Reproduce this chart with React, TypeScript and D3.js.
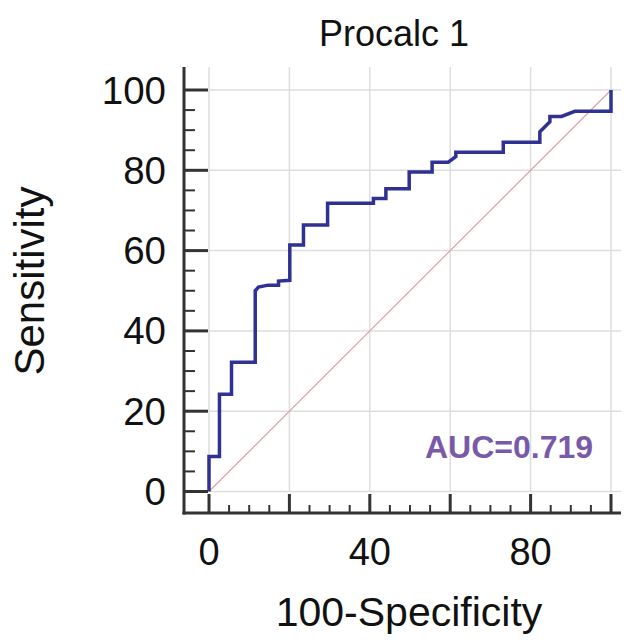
import React from "react";
import * as d3 from "d3";

// ROC curve points: 100-Specificity (x) and Sensitivity (y)
const fpr = [0, 0, 2.6, 2.6, 5.6, 5.6, 11.5, 11.5, 12.3, 14.7, 17.3, 17.3, 20.1, 20.1, 23.5, 23.5, 29.5, 29.5, 40.9, 40.9, 44, 44, 49.8, 49.8, 55.5, 55.5, 59.5, 61.4, 61.4, 73.2, 73.2, 82.3, 82.3, 84.8, 84.8, 87.7, 91, 100, 100];
const tpr = [0, 8.7, 8.7, 24.2, 24.2, 32.2, 32.2, 50, 50.9, 51.4, 51.4, 52.4, 52.6, 61.4, 61.4, 66.4, 66.4, 71.8, 71.8, 73, 73, 75.4, 75.4, 79.6, 79.6, 82, 82, 83.4, 84.5, 84.5, 87, 87, 89.6, 92.1, 93.4, 93.4, 94.7, 94.7, 100];
const majorTicks = [0, 20, 40, 60, 80, 100];
const yTickLabels = ["0", "20", "40", "60", "80", "100"];
const xTickLabelValues = [0, 40, 80];
const title = "Procalc 1";
const xLabel = "100-Specificity";
const yLabel = "Sensitivity";
const aucLabel = "AUC=0.719";

export default function App() {
  const x = d3.scaleLinear().domain([0, 100]).range([209, 611]);
  const y = d3.scaleLinear().domain([0, 100]).range([491.5, 90]);
  const axisX = 184;
  const axisY = 513;
  const plotTop = 67;
  const plotRight = 621;
  const minor = d3.range(0, 101, 5).filter((v) => v % 20 !== 0);
  const pts = fpr.map((v, i) => [v, tpr[i]] as [number, number]);
  const line = d3.line<[number, number]>().x((d) => x(d[0])).y((d) => y(d[1]));
  const font = "'Liberation Sans', Arial, sans-serif";
  return (
    <svg width={624} height={640} style={{ position: "absolute", left: 0, top: 0, background: "#fff" }} fontFamily={font}>
      <rect x={0} y={0} width={624} height={640} fill="#fff" />
      {/* grid */}
      {majorTicks.map((t) => (
        <line key={"gx" + t} x1={x(t)} x2={x(t)} y1={plotTop} y2={y(0)} stroke="#dedede" strokeWidth={1.5} />
      ))}
      {majorTicks.map((t) => (
        <line key={"gy" + t} x1={x(0)} x2={plotRight} y1={y(t)} y2={y(t)} stroke="#dedede" strokeWidth={1.5} />
      ))}
      {/* diagonal */}
      <line x1={x(0)} y1={y(0)} x2={x(100)} y2={y(100)} stroke="#d9a3a8" strokeWidth={1.2} />
      {/* ROC curve */}
      <path d={line(pts) || ""} fill="none" stroke="#2f3193" strokeWidth={3.5} strokeLinejoin="miter" />
      {/* axes */}
      <line x1={axisX} x2={axisX} y1={plotTop} y2={axisY + 1.5} stroke="#333" strokeWidth={3} />
      <line x1={axisX - 1.5} x2={plotRight} y1={axisY} y2={axisY} stroke="#333" strokeWidth={3} />
      {majorTicks.map((t) => (
        <line key={"ty" + t} x1={axisX} x2={208} y1={y(t)} y2={y(t)} stroke="#333" strokeWidth={3} />
      ))}
      {minor.map((t) => (
        <line key={"mty" + t} x1={axisX} x2={195} y1={y(t)} y2={y(t)} stroke="#333" strokeWidth={2} />
      ))}
      {majorTicks.map((t) => (
        <line key={"tx" + t} x1={x(t)} x2={x(t)} y1={axisY} y2={494} stroke="#333" strokeWidth={3} />
      ))}
      {minor.map((t) => (
        <line key={"mtx" + t} x1={x(t)} x2={x(t)} y1={axisY} y2={505} stroke="#333" strokeWidth={2} />
      ))}
      {/* tick labels */}
      {majorTicks.map((t, i) => (
        <text key={"ly" + t} x={166} y={y(t)} textAnchor="end" dominantBaseline="central" fontSize={38.5} fill="#111">
          {yTickLabels[i]}
        </text>
      ))}
      {xTickLabelValues.map((t) => (
        <text key={"lx" + t} x={x(t)} y={565} textAnchor="middle" fontSize={38} fill="#111">
          {String(t)}
        </text>
      ))}
      {/* labels */}
      <text x={394} y={46} textAnchor="middle" fontSize={36} fill="#111">{title}</text>
      <text x={409} y={626} textAnchor="middle" fontSize={41} fill="#111">{xLabel}</text>
      <text transform="translate(44,281) rotate(-90)" textAnchor="middle" fontSize={42} fill="#111">{yLabel}</text>
      <text x={509} y={458} textAnchor="middle" fontSize={32} fontWeight="bold" fill="#7a5aa8">{aucLabel}</text>
    </svg>
  );
}
